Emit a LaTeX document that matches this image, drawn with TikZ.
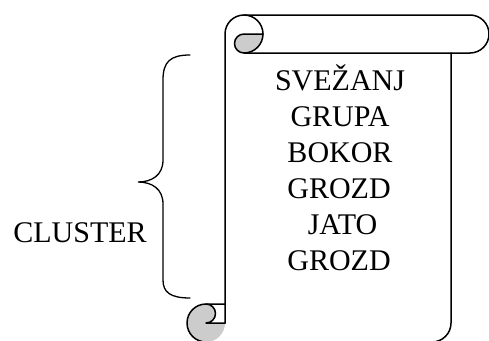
\documentclass[tikz,border=0pt]{standalone}
\usepackage{fontspec}
\setmainfont{Liberation Serif}
\definecolor{rollgray}{RGB}{204,204,204}
\begin{document}
\begin{tikzpicture}[x=1pt,y=1pt,
    outline/.style={line width=1.5pt,line join=round,line cap=round},
    rollfill/.style={fill=rollgray},
    bracestyle/.style={line width=1.3pt,line cap=round},
    word/.style={anchor=base,inner sep=0pt,font=\fontsize{30}{36}\selectfont}]
  \useasboundingbox (0,0) rectangle (489,-340);

  % shaded curls of the two rolls
  \fill[rollfill] (263,-34) arc[start angle=0,end angle=-90,radius=19pt]
        arc[start angle=270,end angle=90,radius=9.5pt] -- cycle;
  \fill[rollfill] (206,-342) arc[start angle=270,end angle=90,radius=19pt]
        arc[start angle=90,end angle=-90,radius=9.5pt] -- (225,-323)
        arc[start angle=0,end angle=-90,radius=19pt] -- cycle;

  % scroll outline
  \draw[outline] (225,-323) -- (225,-34)
        arc[start angle=180,end angle=90,radius=19pt] -- (470,-15)
        arc[start angle=90,end angle=-90,radius=19pt] -- (451,-53) -- (451,-323)
        arc[start angle=0,end angle=-90,radius=19pt] -- (206,-342)
        arc[start angle=270,end angle=90,radius=19pt] -- (225,-304);

  % top roll
  \draw[outline] (244,-15) arc[start angle=90,end angle=-90,radius=19pt];
  \draw[outline] (263,-34) -- (244,-34)
        arc[start angle=90,end angle=270,radius=9.5pt] -- (451,-53);

  % bottom roll
  \draw[outline] (206,-304) arc[start angle=90,end angle=-90,radius=9.5pt] -- (225,-323);

  % brace
  \draw[bracestyle] (190,-55) .. controls (170,-55) and (163,-62) .. (163,-80)
        -- (163,-160) .. controls (163,-175) and (152,-182) .. (138,-182)
        .. controls (152,-182) and (163,-189) .. (163,-204)
        -- (163,-280) .. controls (163,-292) and (170,-298) .. (190,-298);

  % texts
  \node[word] (cluster) at (80,-242) {CLUSTER};
  \node[word] (w1) at (340,-90) {SVEŽANJ};
  \node[word] (w2) at (340,-126) {GRUPA};
  \node[word] (w3) at (340,-162) {BOKOR};
  \node[word] (w4) at (339,-198) {GROZD};
  \node[word] (w5) at (342.5,-234) {JATO};
  \node[word] (w6) at (339,-270) {GROZD};
\end{tikzpicture}
\end{document}
